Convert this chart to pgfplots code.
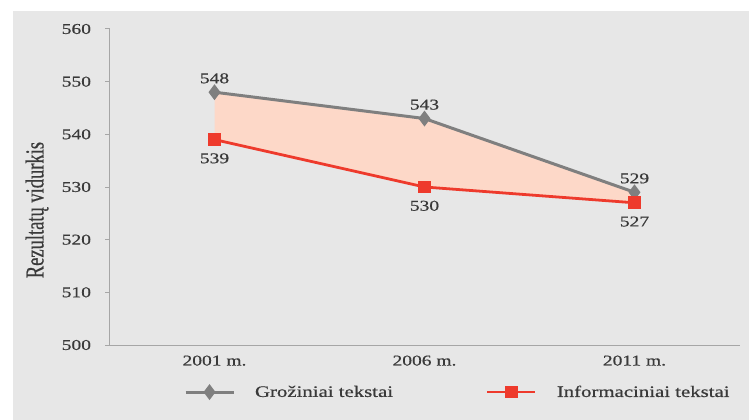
\documentclass[border=0pt]{standalone}
\usepackage{fontspec}
\setmainfont{Liberation Serif}[FakeStretch=1.3, FakeBold=0.6]
\newfontfamily\labelfont{Liberation Serif}[FakeBold=0.6]
\usepackage{pgfplots}
\pgfplotsset{compat=1.18}
\usepgfplotslibrary{fillbetween}
\usepackage{graphicx}

\definecolor{bggray}{HTML}{E7E7E7}
\definecolor{axgray}{HTML}{A6A6A6}
\definecolor{txtgray}{HTML}{3A3A3A}
\definecolor{lgray}{HTML}{7F7F7F}
\definecolor{lred}{HTML}{EE3A2C}
\definecolor{peach}{HTML}{FDD8C8}

\begin{document}
\begin{tikzpicture}
\begin{axis}[
    scale only axis,
    clip=false,
    width=630bp, height=316bp,
    xmin=-0.5, xmax=2.5,
    ymin=500, ymax=560,
    ytick={500,510,...,560},
    xtick={0,1,2},
    xticklabels={2001 m.,2006 m.,2011 m.},
    axis x line*=bottom,
    axis y line*=left,
    axis line style={axgray, line width=1pt, -},
    major x tick style={draw=none},
    ytick style={axgray, line width=1pt},
    tick align=outside,
    major tick length=4bp,
    /pgf/number format/assume math mode=true,
    /pgf/number format/1000 sep={},
    tick label style={font=\fontsize{15bp}{18bp}\selectfont, text=txtgray},
    yticklabel style={xshift=-11bp},
    xticklabel style={yshift=-3bp},
    ylabel={\scalebox{1}[1.4]{\labelfont Rezultatų vidurkis}},
    ylabel style={at={(axis description cs:-0.115,0.427)}, anchor=center,
        font=\fontsize{18.5bp}{21bp}\selectfont, text=txtgray},
    legend columns=2,
    legend style={draw=none, fill=none, inner sep=0pt,
        at={(0.118,-0.149)}, anchor=west,
        font=\fontsize{16bp}{19bp}\selectfont, text=txtgray,
        /tikz/every odd column/.append style={column sep=18bp},
        /tikz/every even column/.append style={column sep=91bp}},
    legend image code/.code={
        \draw[mark repeat=2, mark phase=2, #1]
            plot coordinates {(0bp,0bp) (24bp,0bp) (48bp,0bp)};},
]
\begin{pgfonlayer}{axis background}
\fill[white] ([xshift=-109.5bp,yshift=-75bp]rel axis cs:0,0)
    rectangle ([xshift=9.5bp,yshift=29bp]rel axis cs:1,1);
\fill[bggray] ([xshift=-96.5bp,yshift=-75bp]rel axis cs:0,0)
    rectangle ([xshift=9.5bp,yshift=18bp]rel axis cs:1,1);
\end{pgfonlayer}

\addplot[name path=groz, lgray, line width=3pt,
    mark=diamond*, mark size=5.5bp, mark options={solid, fill=lgray, draw=lgray},
    nodes near coords,
    every node near coord/.append style={anchor=south, yshift=4bp,
        font=\fontsize{15bp}{18bp}\selectfont, text=txtgray}]
    coordinates {(0,548) (1,543) (2,529)};
\addlegendentry{Grožiniai tekstai}

\addplot[name path=info, lred, line width=2.8pt,
    mark=square*, mark size=5bp, mark options={solid, fill=lred, draw=lred},
    nodes near coords,
    every node near coord/.append style={anchor=north, yshift=-9bp,
        font=\fontsize{15bp}{18bp}\selectfont, text=txtgray}]
    coordinates {(0,539) (1,530) (2,527)};
\addlegendentry{Informaciniai tekstai}

\addplot[peach, draw=none] fill between[of=groz and info];
\end{axis}
\end{tikzpicture}
\end{document}
